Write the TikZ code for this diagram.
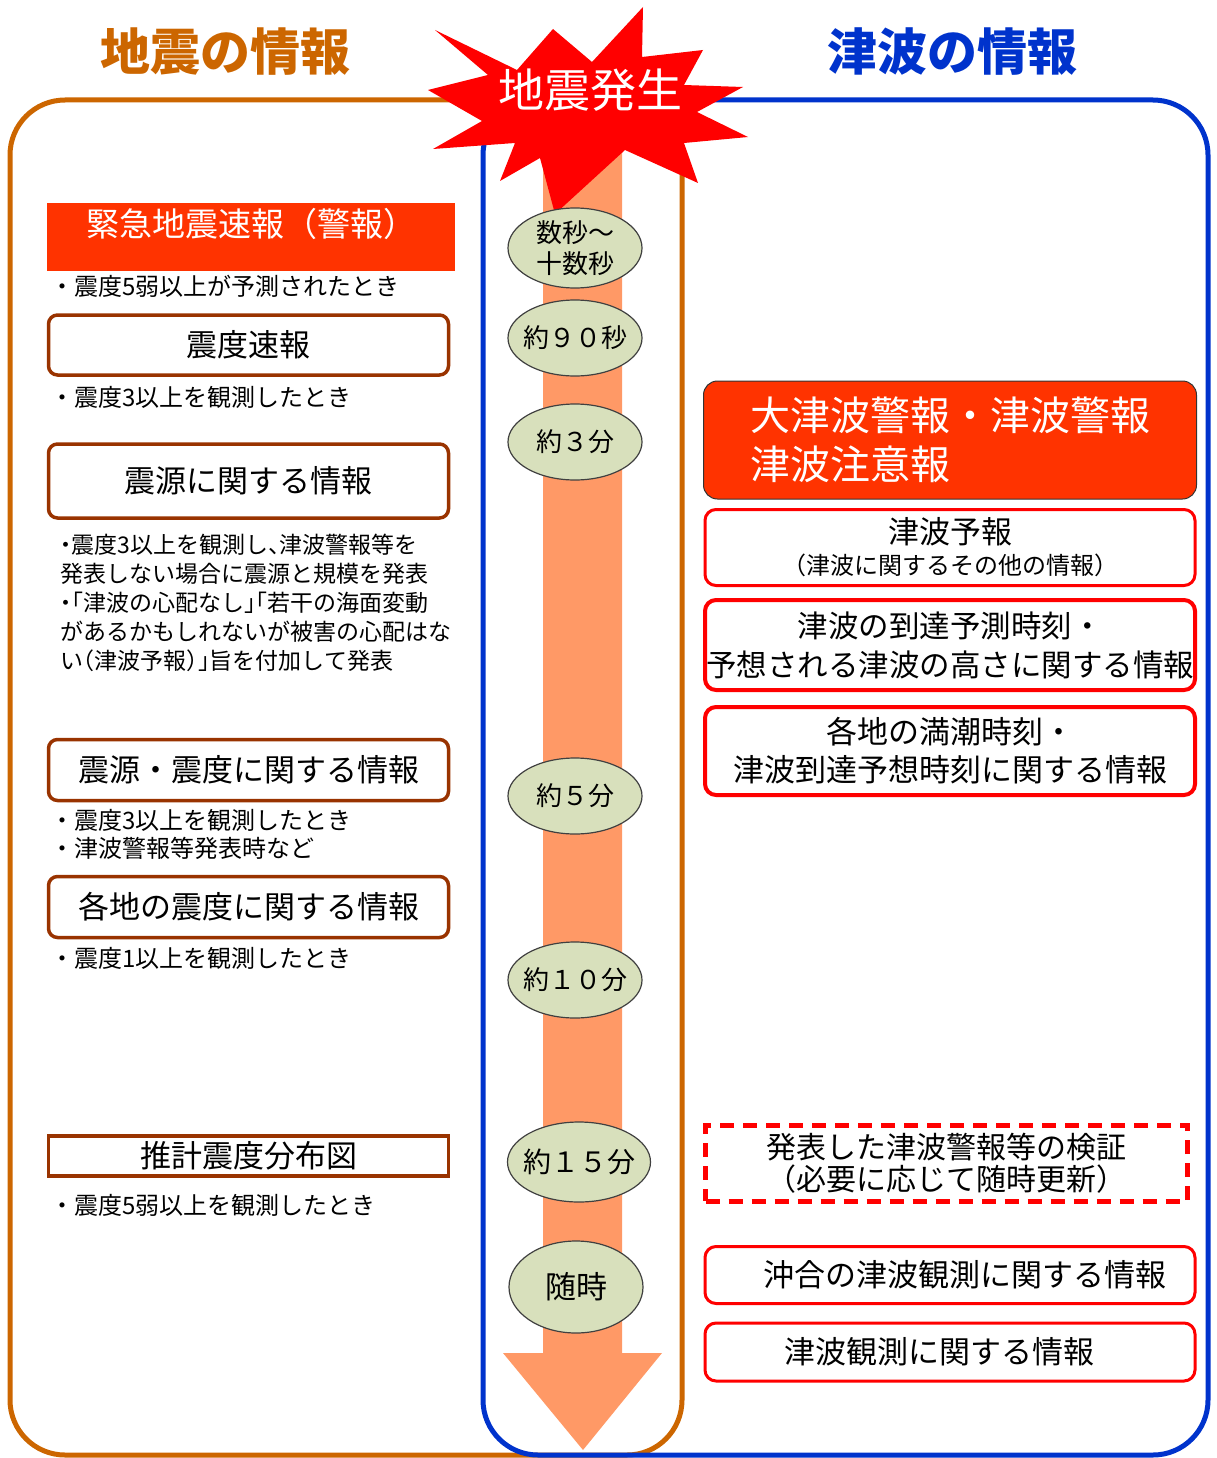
\documentclass[tikz,border=0pt]{standalone}
\usepackage{fontspec}
\setmainfont{Noto Sans CJK JP}
\newfontfamily\halfpunct{Noto Sans CJK JP}[RawFeature=+halt]
\usetikzlibrary{shapes.geometric}
\definecolor{quakeorange}{HTML}{CC6600}
\definecolor{tsunamiblue}{HTML}{0033CC}
\definecolor{alertred}{HTML}{FF3300}
\definecolor{boxbrown}{HTML}{993300}
\definecolor{flowsalmon}{HTML}{FF9966}
\definecolor{timegreen}{HTML}{D8E0BC}

\begin{document}
\begin{tikzpicture}[x=1pt,y=-1pt,
  quakebox/.style={draw=boxbrown,line width=3.5pt,rounded corners=9pt,fill=white,minimum width=400pt,inner sep=0pt,font=\fontsize{31}{36}\selectfont},
  wavebox/.style={draw=red,line width=3pt,rounded corners=11pt,fill=white,minimum width=490pt,inner sep=0pt,align=center,font=\fontsize{31}{38}\selectfont},
  notetext/.style={anchor=west,align=left,inner sep=0pt,font=\fontsize{24}{28}\selectfont},
  timeoval/.style={ellipse,draw=black!75,line width=1.2pt,fill=timegreen,minimum width=134pt,minimum height=76pt,inner xsep=-14pt,inner ysep=0pt,align=center,font=\fontsize{26}{31}\selectfont},
  headtext/.style={font=\fontsize{50}{54}\selectfont\bfseries}]
\useasboundingbox (0,0) rectangle (1216,1458);

\node[headtext,text=quakeorange] (quaketitle) at (225,52) {地震の情報};
\node[headtext,text=tsunamiblue] (wavetitle) at (952,52) {津波の情報};

\draw[quakeorange,line width=5pt,rounded corners=55pt] (10,100) rectangle (682,1455);
\draw[tsunamiblue,line width=5pt,rounded corners=55pt] (483,100) rectangle (1208,1455);

\fill[flowsalmon] (543,150) -- (622,150) -- (622,1353) -- (662,1353) -- (583,1450) -- (503,1353) -- (543,1353) -- cycle;

\fill[red] (435,30) -- (517,70) -- (553,29) -- (592,62) -- (643,7) -- (642,57) -- (703,50) -- (684,85) -- (743,87) -- (697,112) -- (748,137) -- (684,143) -- (698,183) -- (625,150) -- (555,214) -- (540,158) -- (500,181) -- (515,143) -- (433,149) -- (482,121) -- (428,90) -- (488,75) -- cycle;
\node[text=white,font=\fontsize{46}{50}\selectfont] (hassei) at (590,90) {地震発生};

\node[fill=alertred,minimum width=408pt,minimum height=68pt,inner sep=0pt,text depth=30pt,text=white,font=\fontsize{33}{36}\selectfont] (kinkyu) at (251,237) {緊急地震速報（警報）};
\node[notetext] (n1) at (50,286) {・震度5弱以上が予測されたとき};

\node[quakebox,minimum height=60pt] (sokuho) at (248.5,345) {震度速報};
\node[notetext] (n2) at (50,397) {・震度3以上を観測したとき};

\node[quakebox,minimum height=74pt] (shingen) at (248.5,481) {震源に関する情報};
\node[notetext,font=\halfpunct\fontsize{23}{29}\selectfont] (n3) at (60,603) {・震度3以上を観測し、津波警報等を\\発表しない場合に震源と規模を発表\\・「津波の心配なし」「若干の海面変動\\があるかもしれないが被害の心配はな\\い（津波予報）」旨を付加して発表};

\node[quakebox,minimum height=61pt] (shingenshindo) at (248.5,770) {震源・震度に関する情報};
\node[notetext] (n4) at (50,834) {・震度3以上を観測したとき\\・津波警報等発表時など};

\node[quakebox,minimum height=61pt] (kakuchi) at (248.5,907) {各地の震度に関する情報};
\node[notetext] (n5) at (50,958) {・震度1以上を観測したとき};

\node[quakebox,sharp corners,minimum height=40pt] (suikei) at (248.5,1156) {推計震度分布図};
\node[notetext] (n6) at (50,1205) {・震度5弱以上を観測したとき};

\node[timeoval,minimum height=80pt] (t1) at (575,248) {数秒～\\十数秒};
\node[timeoval] (t2) at (575,338) {約９０秒};
\node[timeoval] (t3) at (575,442) {約３分};
\node[timeoval] (t4) at (575,796) {約５分};
\node[timeoval] (t5) at (575,980) {約１０分};
\node[timeoval,minimum width=143pt,minimum height=80pt,font=\fontsize{28}{31}\selectfont] (t6) at (579,1162) {約１５分};
\node[timeoval,minimum height=92pt,font=\fontsize{31}{34}\selectfont] (t7) at (576,1287) {随時};

\node[draw=black!80,line width=1pt,fill=alertred,rounded corners=14pt,minimum width=493pt,minimum height=118pt,inner sep=0pt,align=left,text=white,font=\fontsize{40}{49}\selectfont] (keiho) at (950,440) {大津波警報・津波警報\\津波注意報};
\node[wavebox,minimum height=76pt,font=\fontsize{24}{31}\selectfont] (yoho) at (950,547.5) {{\fontsize{31}{31}\selectfont 津波予報}\\（津波に関するその他の情報）};
\node[wavebox,line width=4pt,minimum height=90pt,font=\fontsize{30.5}{39}\selectfont] (totatsu) at (950,645) {津波の到達予測時刻・\\予想される津波の高さに関する情報};
\node[wavebox,line width=4pt,minimum height=88pt] (manchou) at (950,751) {各地の満潮時刻・\\津波到達予想時刻に関する情報};
\node[draw=red,line width=5pt,dash pattern=on 14pt off 9pt,minimum width=482pt,minimum height=76pt,inner sep=0pt,align=center,font=\fontsize{30}{32}\selectfont] (kensho) at (946.5,1163) {発表した津波警報等の検証\\（必要に応じて随時更新）};
\node[wavebox,minimum height=57pt] (okiai) at (950,1275) {\hspace*{30pt}沖合の津波観測に関する情報};
\node[wavebox,minimum height=58pt] (kansoku) at (950,1352) {津波観測に関する情報\hspace*{22pt}};
\end{tikzpicture}
\end{document}
